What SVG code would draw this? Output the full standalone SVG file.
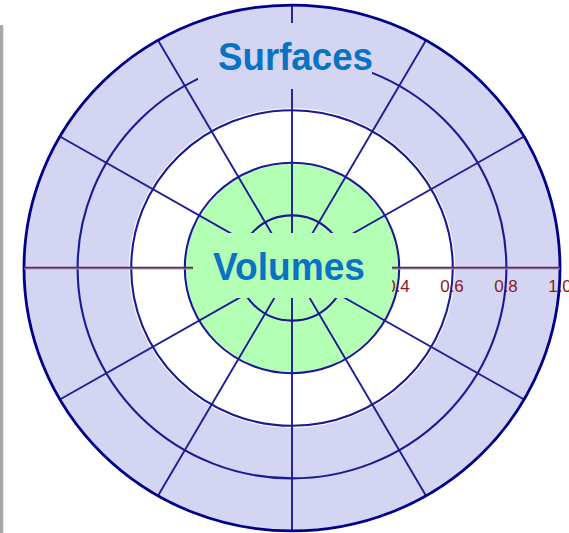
<svg xmlns="http://www.w3.org/2000/svg" width="569" height="533" viewBox="0 0 569 533">
<style>
.grid{fill:none;stroke:#1a1a94;stroke-width:2.1}
.spoke{fill:none;stroke:#1e1e96;stroke-width:1.9}
.outer{fill:none;stroke:#00008b;stroke-width:2.8}
.tick{font-family:"Liberation Sans",Arial,sans-serif;font-size:17px;fill:#8b1a1a;text-anchor:middle}
.lbl{font-family:"Liberation Sans",Arial,sans-serif;font-weight:bold;font-size:38px;fill:#0a72c2;text-anchor:middle}
</style>
<rect x="0" y="0" width="569" height="533" fill="#ffffff"/>
<rect x="0" y="25" width="3.3" height="508" fill="#a8a8a8"/>
<g id="fills" transform="translate(292,268) scale(1,0.9813)">
  <circle r="269" fill="#d4d5f3"/>
  <circle r="163" fill="#ffffff"/>
  <circle r="106" fill="#b3ffb3"/>
</g>
<g id="axis-labels">
  <text class="tick" x="398" y="292">0.4</text>
  <text class="tick" x="452" y="292">0.6</text>
  <text class="tick" x="506" y="292">0.8</text>
  <text class="tick" x="560" y="292">1.0</text>
</g>
<g id="connectors" transform="translate(292,268) scale(1,0.9813)">
  <line class="spoke" x1="232.1" y1="-134" x2="-232.1" y2="134"/>
  <line class="spoke" x1="134" y1="-232.1" x2="-134" y2="232.1"/>
  <line class="spoke" x1="0" y1="-268" x2="0" y2="268"/>
  <line class="spoke" x1="-134" y1="-232.1" x2="134" y2="232.1"/>
  <line class="spoke" x1="-232.1" y1="-134" x2="232.1" y2="134"/>
  <circle class="grid" r="53.6"/>
  <circle class="grid" r="107.2"/>
  <circle class="grid" r="160.8"/>
  <circle class="grid" r="214.4"/>
  <circle class="outer" r="268"/>
  <line x1="-268" y1="0.8" x2="268" y2="0.8" stroke="#c89098" stroke-width="1.3"/>
  <line x1="-268" y1="-0.4" x2="268" y2="-0.4" stroke="#4e2c6a" stroke-width="1.8"/>
</g>
<g id="surfaces">
  <rect x="198" y="23" width="174" height="66" fill="#d4d5f3"/>
  <text class="lbl" x="295.5" y="70" textLength="155" lengthAdjust="spacingAndGlyphs">Surfaces</text>
</g>
<g id="volumes">
  <rect x="193" y="233" width="199" height="65" fill="#b3ffb3"/>
  <text class="lbl" x="289" y="280" textLength="152" lengthAdjust="spacingAndGlyphs">Volumes</text>
</g>
</svg>
